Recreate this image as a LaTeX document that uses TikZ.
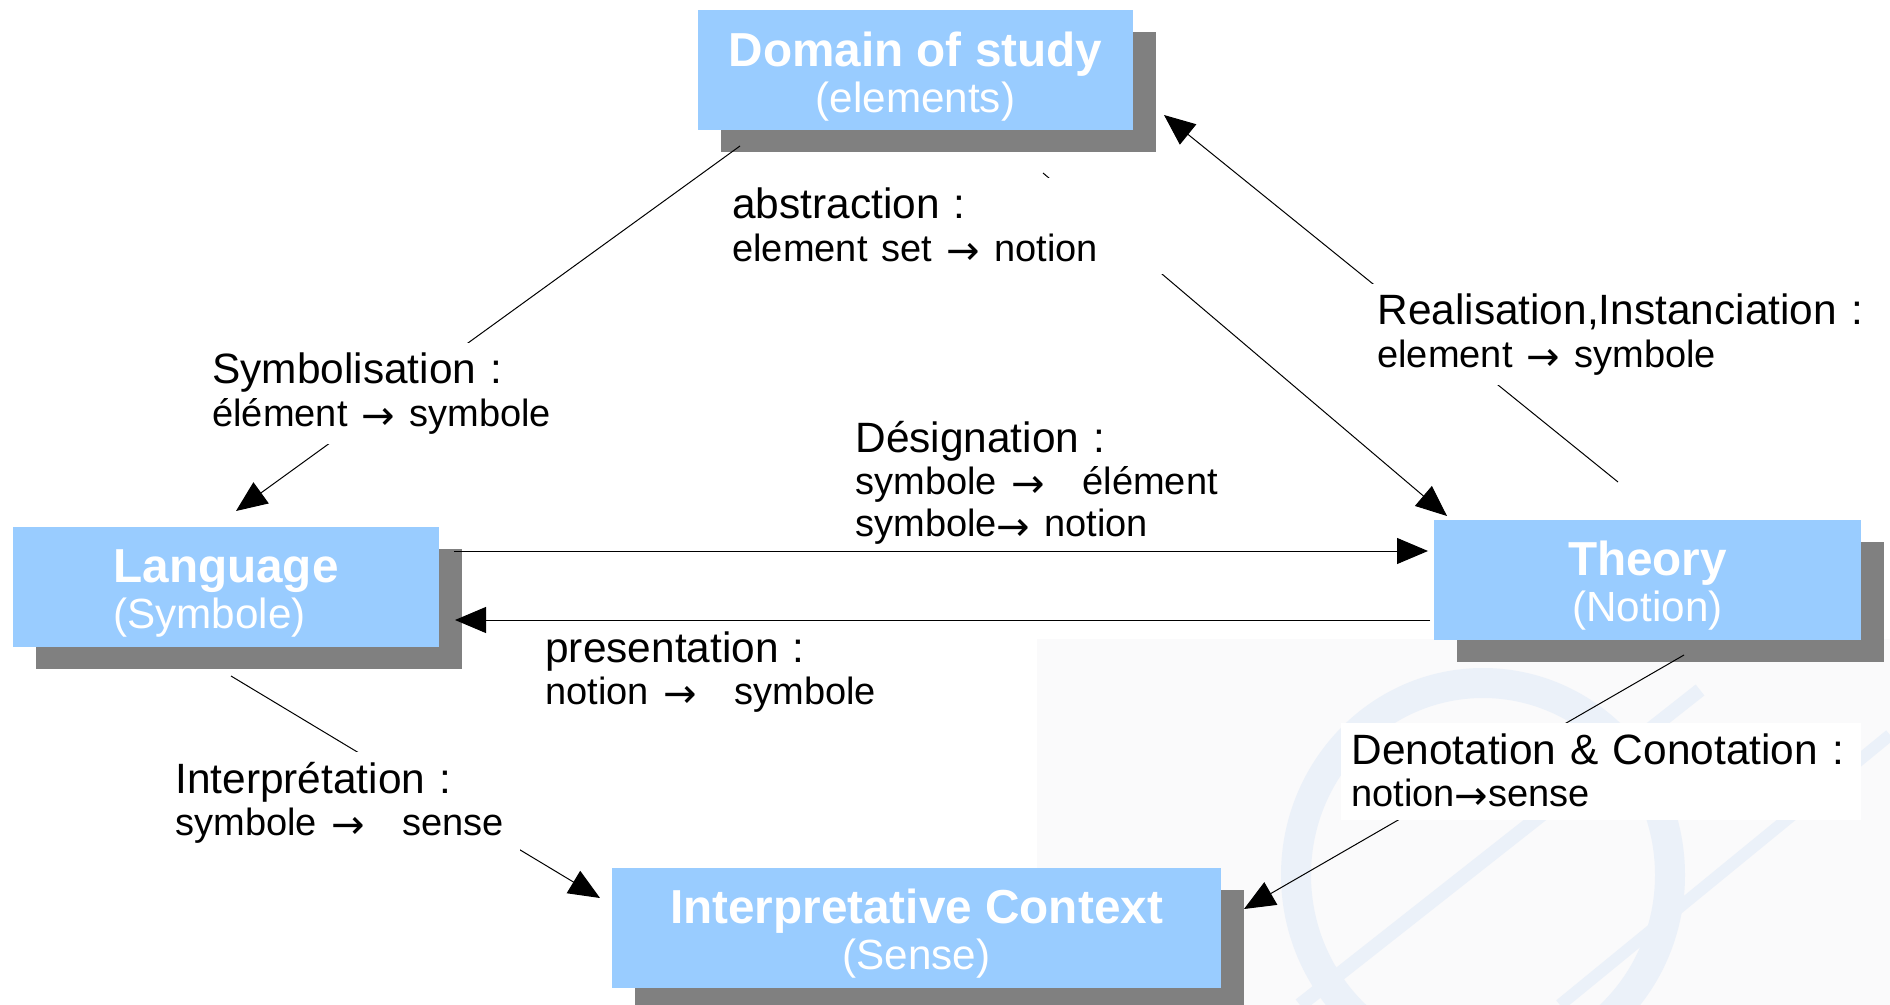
\documentclass[tikz,border=0pt]{standalone}
\usepackage{fontspec}
\setmainfont{Liberation Sans}
\newfontfamily\arrowfont{DejaVu Sans}
\usetikzlibrary{arrows.meta,
                shadows}
\setlength{\parindent}{0pt}
\definecolor{conceptblue}{HTML}{99CCFF}
\definecolor{shadowgray}{HTML}{808080}
\definecolor{markgray}{HTML}{FAFAFB}
\definecolor{markblue}{HTML}{EBF1F9}
\tikzset{concept/.style =
   {rectangle,
    fill=conceptblue,
    text=white,
    align=center,
    inner sep=0pt,
    minimum height=60pt,
    font=\fontsize{21.1pt}{23pt}\selectfont,
    drop shadow={shadow xshift=11.5pt,
                 shadow yshift=-11pt,
                 fill=shadowgray,
                 opacity=1}}}
\tikzset{relation/.style =
   {rectangle,
    fill=white,
    align=left,
    inner sep=5pt,
    anchor=base west,
    font=\fontsize{21.2pt}{21.25pt}\selectfont}}
\tikzset{arrow/.style = {draw, line width=0.5pt, -{Triangle[length=15.5pt,width=13pt]}}}
\newcommand{\ctitle}[1]{\rule{0pt}{23.4pt}{\bfseries\fontsize{23.85pt}{23pt}\selectfont #1}}
\newcommand{\rsub}[1]{{\fontsize{19pt}{21.25pt}\selectfont #1}}
\newcommand{\rarr}{\raisebox{-1.5pt}{\arrowfont\fontsize{20pt}{20pt}\selectfont →}}

\begin{document}
\begin{tikzpicture}[x=0.5pt, y=-0.5pt]
    \useasboundingbox (0,0) rectangle (1890,1005);

    \fill[markgray] (1037,639) rectangle (1890,1005);
    \draw[markblue, line width=15pt] (1483,875) ellipse [x radius=93.5pt, y radius=96pt];
    \draw[markblue, line width=7pt] (1300,1005) -- (1700,690);
    \draw[markblue, line width=6pt] (1560,1005) -- (1890,735);

    \node [concept,
           minimum width=217.5pt] (domain) at (915.5,70.5)
    {\ctitle{Domain of study}\\(elements)};

    \node [concept,
           align=left,
           minimum width=213pt] (language) at (226,586.5)
    {\ctitle{Language}\\(Symbole)};

    \node [concept,
           minimum width=213.5pt] (theory) at (1647.5,579.5)
    {\ctitle{Theory}\\(Notion)};

    \node [concept,
           minimum width=304.5pt] (context) at (916.5,927.5)
    {\ctitle{Interpretative Context}\\(Sense)};

    \coordinate (dom-sym) at (740,146);
    \coordinate (lang-sym) at (236,511);
    \coordinate (dom-abs) at (1043,173);
    \coordinate (theo-abs) at (1447,516);
    \coordinate (theo-real) at (1618,482);
    \coordinate (dom-real) at (1164,115);
    \coordinate (lang-des) at (454,551);
    \coordinate (theo-des) at (1428,551);
    \coordinate (theo-pres) at (1430,620);
    \coordinate (lang-pres) at (455,620);
    \coordinate (lang-int) at (231,676);
    \coordinate (ctx-int) at (600,898);
    \coordinate (theo-den) at (1684,655);
    \coordinate (ctx-den) at (1244,909);

    \draw[arrow] (dom-sym) -- (lang-sym);
    \draw[arrow] (dom-abs) -- (theo-abs);
    \draw[arrow] (theo-real) -- (dom-real);
    \draw[arrow] (lang-int) -- (ctx-int);
    \draw[arrow] (theo-den) -- (ctx-den);

    \node [relation, text width=180pt] (symbolisation) at (202,384)
    {Symbolisation :\\\rsub{élément \rarr{} symbole}};

    \node [relation, text width=211.5pt] (abstraction) at (722,219)
    {abstraction :\\\rsub{element set \rarr{} notion}};

    \node [relation, text width=250pt] (realisation) at (1367,325)
    {Realisation,Instanciation :\\\rsub{element \rarr{} symbole}};

    \node [relation, text width=190pt] (designation) at (845,452)
    {Désignation :\\\rsub{symbole \rarr\hspace{19pt}élément}\\\rsub{symbole\rarr{} notion}};

    \node [relation, text width=175pt] (presentation) at (535,662)
    {presentation :\\\rsub{notion \rarr\hspace{19pt}symbole}};

    \node [relation, text width=167.5pt] (interpretation) at (165,793)
    {Interprétation :\\\rsub{symbole \rarr\hspace{19pt}sense}};

    \node [relation, text width=250pt] (denotation) at (1341,764)
    {Denotation \& Conotation :\\\rsub{notion\rarr{}sense}};

    \draw[arrow] (lang-des) -- (theo-des);
    \draw[arrow] (theo-pres) -- (lang-pres);

\end{tikzpicture}
\end{document}
